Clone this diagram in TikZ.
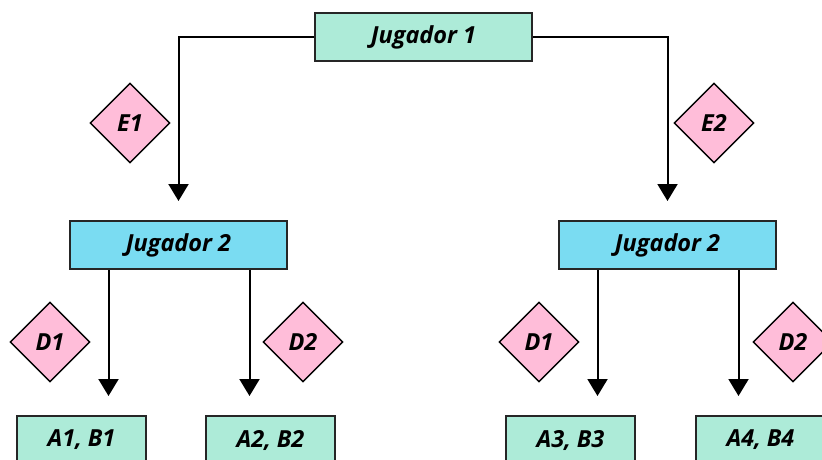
\documentclass[tikz,border=0pt]{standalone}
\usepackage{fontspec}
\setmainfont{Open Sans}
\usetikzlibrary{shapes.geometric,arrows.meta}
\definecolor{mint}{HTML}{ADEBD8}
\definecolor{sky}{HTML}{7ADCF2}
\definecolor{pinkd}{HTML}{FFBDD9}
\tikzset{
  lbl/.style={font=\fontsize{23.5}{26}\selectfont\bfseries\itshape},
  playerbox/.style={draw=black!85, line width=2pt, lbl, minimum width=217pt, minimum height=48pt, inner sep=0pt},
  outbox/.style={draw=black!85, fill=mint, line width=2pt, lbl, minimum width=129pt, minimum height=48pt, inner sep=0pt},
  choice/.style={diamond, aspect=1, draw=black, fill=pinkd, line width=1.4pt, lbl, minimum width=80pt, minimum height=80pt, inner sep=0pt},
  conn/.style={line width=2pt, -{Triangle[width=20pt,length=17pt]}, shorten >=19pt}
}
\begin{document}
\begin{tikzpicture}[x=1pt,y=-1pt]
\useasboundingbox (0,0) rectangle (822,459);
\node[playerbox, fill=mint] (j1) at (423.5,37) {Jugador 1};
\node[playerbox, fill=sky] (j2a) at (178.5,245) {Jugador 2};
\node[playerbox, fill=sky] (j2b) at (667.5,245) {Jugador 2};
\node[outbox] (o1) at (81.5,440) {A1, B1};
\node[outbox] (o2) at (270.5,440) {A2, B2};
\node[outbox] (o3) at (570.5,440) {A3, B3};
\node[outbox] (o4) at (760.5,440) {A4, B4};
\node[choice] (e1) at (130,123) {E1};
\node[choice] (e2) at (714,123) {E2};
\node[choice] (d1a) at (50,342) {D1};
\node[choice] (d2a) at (303,342) {D2};
\node[choice] (d1b) at (539,342) {D1};
\node[choice] (d2b) at (793,342) {D2};
\draw[conn] (j1.west) -| (j2a.north);
\draw[conn] (j1.east) -| (j2b.north);
\draw[conn] ([xshift=-70pt]j2a.south) -- ([xshift=-70pt]j2a.south |- o1.north);
\draw[conn] ([xshift=71pt]j2a.south) -- ([xshift=71pt]j2a.south |- o2.north);
\draw[conn] ([xshift=-70pt]j2b.south) -- ([xshift=-70pt]j2b.south |- o3.north);
\draw[conn] ([xshift=71pt]j2b.south) -- ([xshift=71pt]j2b.south |- o4.north);
\end{tikzpicture}
\end{document}
